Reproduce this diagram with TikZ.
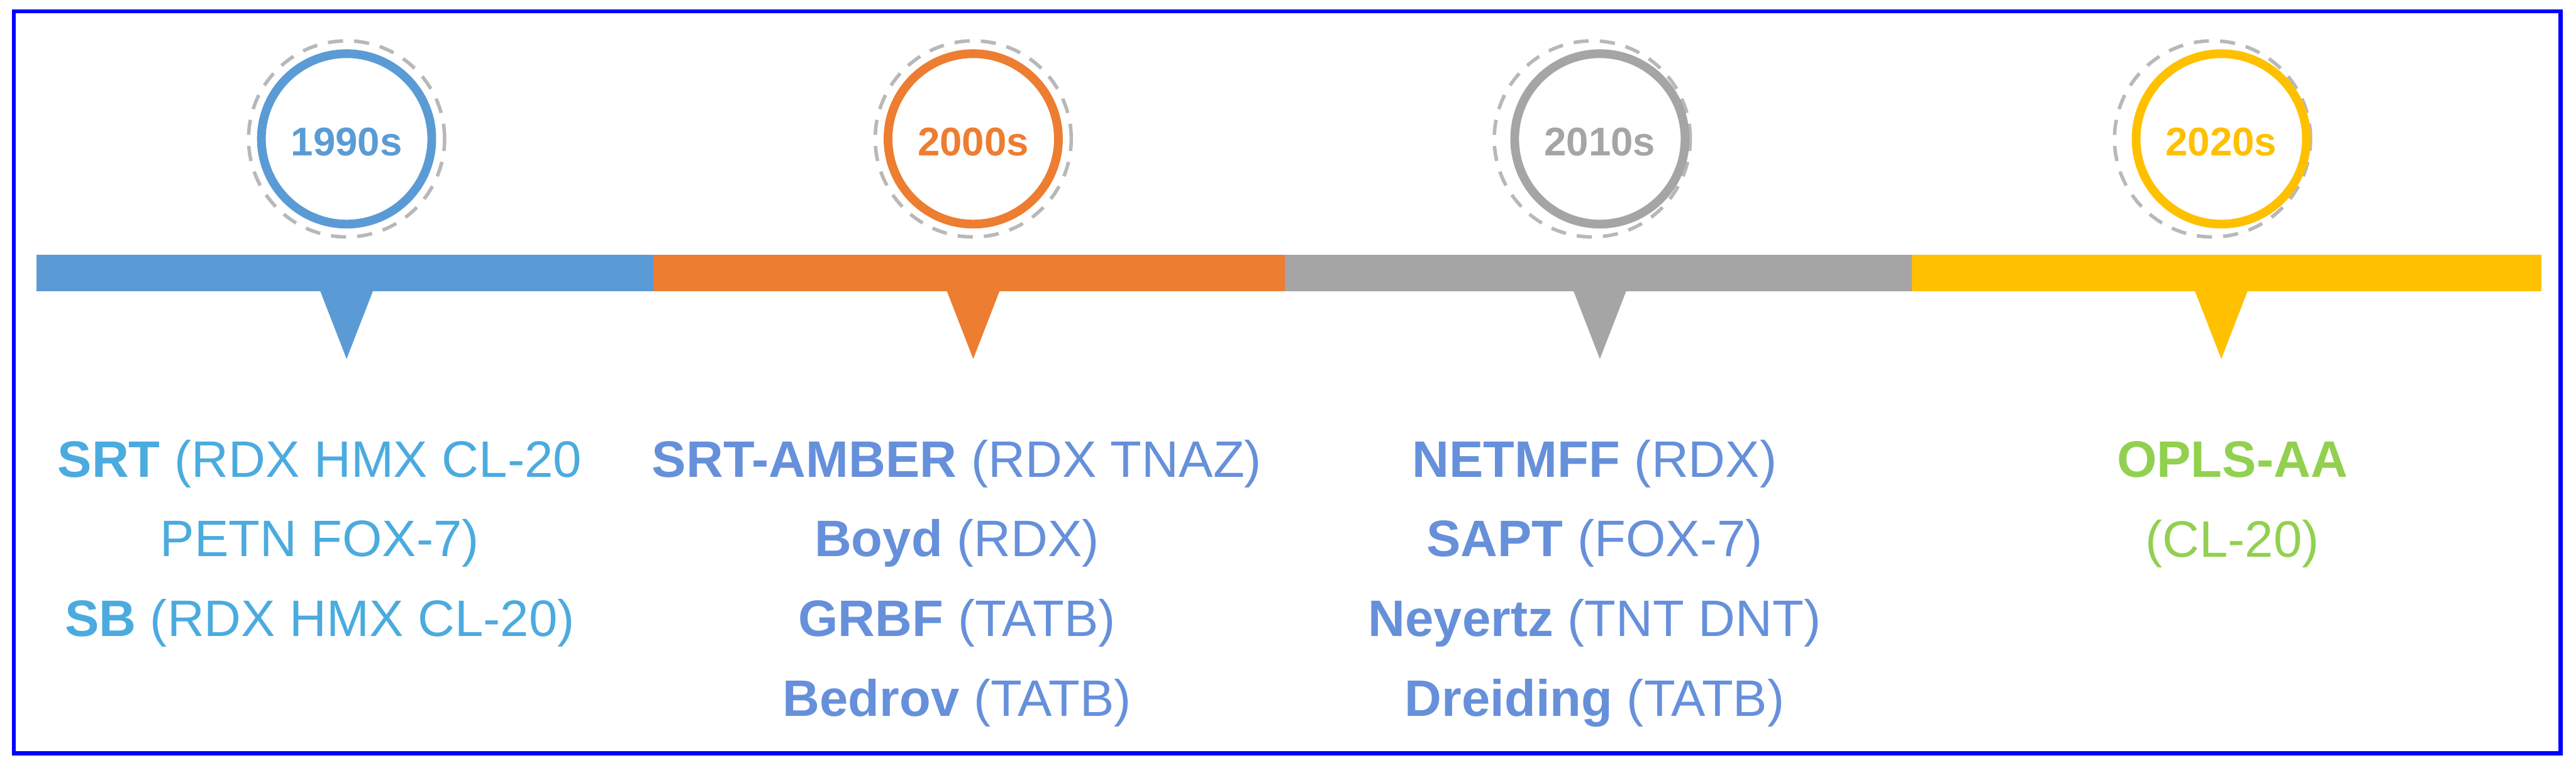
\documentclass[tikz,border=0pt]{standalone}
\usepackage{fontspec}
\setmainfont{Liberation Sans}
\usepackage{tikz}
\usetikzlibrary{positioning}
\usepackage{xcolor}

\definecolor{eraBlue}{HTML}{5B9BD5}
\definecolor{eraOrange}{HTML}{ED7D31}
\definecolor{eraGray}{HTML}{A5A5A5}
\definecolor{eraYellow}{HTML}{FFC000}
\definecolor{ringDash}{HTML}{B8B8B8}
\definecolor{skyText}{HTML}{4BABDF}
\definecolor{fieldText}{HTML}{6690DA}
\definecolor{greenText}{HTML}{92D050}

\begin{document}
\begin{tikzpicture}[
    year/.style={font=\fontsize{19.5}{23}\selectfont\bfseries, inner sep=0pt, anchor=base},
    entry/.style={font=\fontsize{25}{30}\selectfont, inner sep=0pt, anchor=base}
]
    % Canvas and frame
    \useasboundingbox (0,0) rectangle (44.15,13.19);
    \draw[blue, line width=0.07cm] (0.235,0.28) rectangle (43.885,12.995);

    % Decades: colour / centre / segment start / segment end / label / shift of dashed ring
    \foreach \col/\cx/\xa/\xb/\yr/\dx in {eraBlue/5.94/0.62/11.20/1990s/0,
                                          eraOrange/16.68/11.20/22.02/2000s/0,
                                          eraGray/27.42/22.02/32.77/2010s/-0.13,
                                          eraYellow/38.07/32.77/43.56/2020s/-0.15} {
        % Bar segment and pointer
        \fill[\col] (\xa,8.20) rectangle (\xb,8.82);
        \fill[\col] (\cx-0.47,8.25) -- (\cx+0.47,8.25) -- (\cx,7.04) -- cycle;
        % Year badge
        \draw[ringDash, line width=0.06cm, dash pattern=on 0.26cm off 0.19cm] (\cx+\dx,10.81) circle (1.68);
        \draw[\col, line width=0.15cm] (\cx,10.81) circle (1.46);
        \node[year, text=\col] (y\yr) at (\cx,10.52) {\yr};
    }

    % 1990s force fields
    \node[entry, text=skyText] (srt) at (5.48,5.01) {\textbf{SRT} (RDX HMX CL-20};
    \node[entry, text=skyText] (petn) at (5.48,3.66) {PETN FOX-7)};
    \node[entry, text=skyText] (sb) at (5.48,2.29) {\textbf{SB} (RDX HMX CL-20)};

    % 2000s force fields
    \node[entry, text=fieldText] (amber) at (16.40,5.01) {\textbf{SRT-AMBER} (RDX TNAZ)};
    \node[entry, text=fieldText] (boyd) at (16.40,3.66) {\textbf{Boyd} (RDX)};
    \node[entry, text=fieldText] (grbf) at (16.40,2.29) {\textbf{GRBF} (TATB)};
    \node[entry, text=fieldText] (bedrov) at (16.40,0.92) {\textbf{Bedrov} (TATB)};

    % 2010s force fields
    \node[entry, text=fieldText] (netmff) at (27.33,5.01) {\textbf{NETMFF} (RDX)};
    \node[entry, text=fieldText] (sapt) at (27.33,3.66) {\textbf{SAPT} (FOX-7)};
    \node[entry, text=fieldText] (neyertz) at (27.33,2.29) {\textbf{Neyertz} (TNT DNT)};
    \node[entry, text=fieldText] (dreiding) at (27.33,0.92) {\textbf{Dreiding} (TATB)};

    % 2020s force fields
    \node[entry, text=greenText] (opls) at (38.26,5.01) {\textbf{OPLS-AA}};
    \node[entry, text=greenText] (cl20) at (38.26,3.64) {(CL-20)};
\end{tikzpicture}
\end{document}
